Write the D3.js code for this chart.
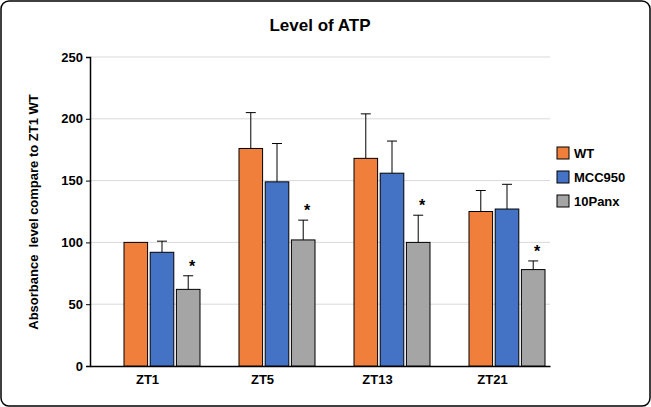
<!DOCTYPE html>
<html><head><meta charset="utf-8">
<script src="https://cdn.jsdelivr.net/npm/d3@7"></script>
<style>body{margin:0;background:#fff}svg{display:block}</style>
</head><body><svg id="c" width="651" height="407"></svg>
<script>
const categories = ['ZT1', 'ZT5', 'ZT13', 'ZT21'];
const seriesNames = ['WT', 'MCC950', '10Panx'];
const seriesColours = ['#EF7F3A', '#4472C4', '#A5A5A5'];
const wtValues = [100, 176, 168, 125];
const mccValues = [92, 149, 156, 127];
const panxValues = [62, 102, 100, 78];
const wtErr = [0, 29, 36, 17];
const mccErr = [9, 31, 26, 20];
const panxErr = [11, 16, 22, 7];
const yTicks = [0, 50, 100, 150, 200, 250];

const svg = d3.select('#c');
const font = 'Liberation Sans, Arial, sans-serif';

svg.append('rect').attr('x', 1).attr('y', 1).attr('width', 649).attr('height', 405)
    .attr('rx', 8).attr('fill', '#fff').attr('stroke', '#000').attr('stroke-width', 1.5);

const plot = { left: 90, right: 550, top: 57, bottom: 366 };
const x = d3.scaleBand().domain(categories).range([plot.left, plot.right]);
const x1 = d3.scaleBand().domain(seriesNames).range([34, 110]).paddingInner(0.1);
const y = d3.scaleLinear().domain([0, 250]).range([plot.bottom, plot.top]);

// grid
svg.selectAll('line.grid').data(yTicks.slice(1)).enter().append('line')
    .attr('x1', plot.left).attr('x2', plot.right)
    .attr('y1', d => y(d)).attr('y2', d => y(d))
    .attr('stroke', '#d9d9d9').attr('stroke-width', 1);

const yAxis = svg.append('g').attr('transform', `translate(${plot.left},0)`)
    .call(d3.axisLeft(y).tickValues(yTicks).tickSize(4));
yAxis.select('.domain').attr('stroke', '#000').attr('stroke-width', 1.5);
yAxis.selectAll('text').attr('font-family', font).attr('font-size', 13).attr('font-weight', 'bold');

const xAxis = svg.append('g').attr('transform', `translate(0,${plot.bottom})`)
    .call(d3.axisBottom(x).tickSize(0).tickPadding(9));
xAxis.select('.domain').attr('stroke', '#000').attr('stroke-width', 1.5);
xAxis.selectAll('text').attr('font-family', font).attr('font-size', 13).attr('font-weight', 'bold');

const series = [wtValues, mccValues, panxValues];
const errs = [wtErr, mccErr, panxErr];
series.forEach((vals, s) => {
    const g = svg.append('g');
    vals.forEach((v, i) => {
        const bx = x(categories[i]) + x1(seriesNames[s]);
        const bw = x1.bandwidth();
        const cx = bx + bw / 2;
        if (errs[s][i] > 0) {
            const top = y(v + errs[s][i]);
            g.append('line').attr('x1', cx).attr('x2', cx).attr('y1', y(v)).attr('y2', top).attr('stroke', '#000');
            g.append('line').attr('x1', cx - 5).attr('x2', cx + 5).attr('y1', top).attr('y2', top).attr('stroke', '#000');
        }
        g.append('rect').attr('x', bx).attr('y', y(v)).attr('width', bw).attr('height', y(0) - y(v))
            .attr('fill', seriesColours[s]).attr('stroke', '#000').attr('stroke-width', 1);
        if (s === 2) {
            svg.append('text').attr('x', cx + 4).attr('y', y(v + errs[s][i]) - 4)
                .attr('text-anchor', 'middle').attr('font-family', font).attr('font-size', 16)
                .attr('font-weight', 'bold').text('*');
        }
    });
});

svg.append('text').attr('x', 320).attr('y', 31).attr('text-anchor', 'middle')
    .attr('font-family', font).attr('font-size', 17).attr('font-weight', 'bold').text('Level of ATP');

svg.append('text').attr('transform', 'translate(38,212) rotate(-90)').attr('text-anchor', 'middle')
    .attr('font-family', font).attr('font-size', 13).attr('font-weight', 'bold')
    .attr('xml:space', 'preserve').text('Absorbance  level compare to ZT1 WT');

const legend = svg.append('g');
seriesNames.forEach((n, i) => {
    const ly = 153 + i * 24;
    legend.append('rect').attr('x', 557).attr('y', ly - 6).attr('width', 12).attr('height', 12)
        .attr('fill', seriesColours[i]).attr('stroke', '#000');
    legend.append('text').attr('x', 574).attr('y', ly + 5).attr('font-family', font)
        .attr('font-size', 13).attr('font-weight', 'bold').text(n);
});
</script></body></html>
